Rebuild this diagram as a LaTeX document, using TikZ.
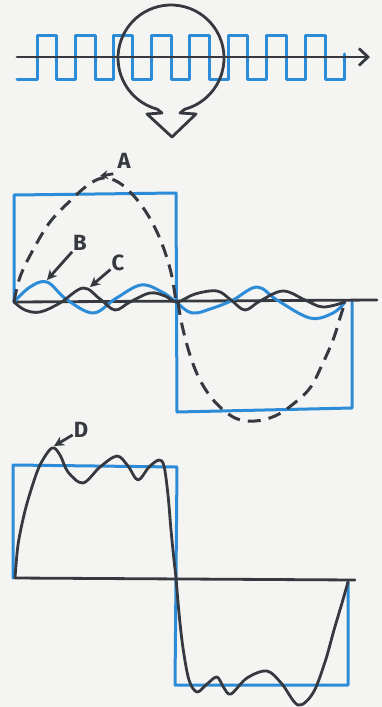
\documentclass[tikz,border=0pt]{standalone}
\usepackage{fontspec}
\newfontfamily\labfont{Fira Sans}
\usetikzlibrary{arrows.meta}
\definecolor{wblue}{HTML}{2D8CD7}
\definecolor{ink}{HTML}{363940}
\definecolor{paper}{HTML}{F4F4F3}
\tikzset{
  wave/.style={draw=wblue, line width=3pt, line join=round, line cap=round},
  inkline/.style={draw=ink, line width=2.8pt, line join=round, line cap=round},
  dashcurve/.style={draw=ink, line width=3pt, dash pattern=on 13pt off 8pt},
  lbl/.style={font=\labfont\bfseries\fontsize{22}{22}\selectfont, text=ink, inner sep=1pt},
  pointer/.style={draw=ink, line width=2.8pt, -{Stealth[length=10pt,width=10pt]}},
}
\begin{document}
\begin{tikzpicture}[x=1pt,y=-1pt]
\fill[paper] (0,0) rectangle (382,707);
\useasboundingbox (0,0) rectangle (382,707);

% ---------- top: pulse train, axis, magnifier ----------
\draw[wave] (17,79)
  foreach \r/\f in {37/56, 75/95, 113/132, 151/171, 189/209, 228/247, 266/286, 305/325}
  { -- (\r,79) -- (\r,35) -- (\f,35) -- (\f,79) } -- (344,79) -- (344,54);
\coordinate (ax1s) at (17,57);
\coordinate (ax1e) at (370,57);
\draw[inkline, -{Straight Barb[length=9pt,width=17pt]}] (ax1s) -- (ax1e);
\draw[inkline] (157.3,109.2) arc[start angle=105, end angle=435, radius=53]
  -- (180,113) -- (196,114) -- (172,137) -- (147,114) -- (162,113) -- cycle;

% ---------- middle: fundamental and harmonics ----------
\draw[wave] (14,302) -- (14,195) -- (176,193) -- (177,412) -- (352,408) -- (352,302);
\coordinate (ax2s) at (14,302);
\coordinate (ax2e) at (377,300);
\draw[inkline] (ax2s) -- (ax2e);
% harmonic B (blue)
\draw[wave] plot[smooth, tension=0.6] coordinates {(14,302) (30,287) (47,282) (66,299)
  (93,313) (115,299) (141,285) (162,292) (176,302) (192,313) (213,308) (233,300)
  (257,287) (277,300) (310,318) (333,313) (345,302)};
% harmonic C (dark)
\draw[inkline] plot[smooth, tension=0.6] coordinates {(14,302) (25,310) (40,312) (60,303)
  (83,288) (100,299) (115,310) (130,302) (150,293) (165,296) (177,302) (195,294)
  (217,291) (231,300) (245,310) (260,301) (283,291) (305,300) (323,307) (345,302)};
% fundamental A (dashed)
\draw[dashcurve] plot[smooth, tension=0.6] coordinates {(14,302) (20,277) (33,250)
  (50,222) (70,201) (88,185) (103,178) (118,182) (133,195) (146,212) (157,232)
  (166,255) (172,277) (176,302)};
\draw[dashcurve] plot[smooth, tension=0.6] coordinates {(178,302) (182,325) (190,355)
  (200,380) (215,402) (235,418) (255,421) (275,416) (292,405) (310,388) (322,365)
  (333,340) (340,318) (345,302)};

\node[lbl] (A) at (124,161) {A};
\node[lbl] (B) at (80,243) {B};
\node[lbl] (C) at (118,263) {C};
\coordinate (tipA) at (100,176);
\coordinate (tipB) at (47,280);
\coordinate (tipC) at (90,287);
\draw[pointer, -{Stealth[length=8pt,width=9pt]}] (A.south west) ++(-3,4) -- (tipA);
\draw[pointer] (B) -- (tipB);
\draw[pointer] (C) -- (tipC);

% ---------- bottom: sum D ----------
\draw[wave] (13,578) -- (13,465) -- (177,467) -- (176,578) -- (175,685) -- (348,685) -- (348,582);
\coordinate (ax3s) at (15,578);
\coordinate (ax3e) at (355,580);
\draw[inkline] (ax3s) -- (ax3e);
\draw[inkline] plot[smooth, tension=0.55] coordinates {(15,578) (18,545) (24,515)
  (31,490) (40,465) (52,448) (60,455) (68,472) (83,483) (100,467) (117,456)
  (128,466) (138,480) (149,467) (159,460) (164,466) (168,495) (171,530) (174,560)
  (176,578) (179,613) (183,648) (189,680) (197,692) (207,684) (217,677) (224,688)
  (231,694) (247,678) (267,671) (282,684) (298,705) (313,693) (325,662) (334,630)
  (342,603) (348,582)};
\node[lbl] (D) at (81,430) {D};
\coordinate (tipD) at (54,446);
\draw[pointer] (D) -- (tipD);
\end{tikzpicture}
\end{document}
